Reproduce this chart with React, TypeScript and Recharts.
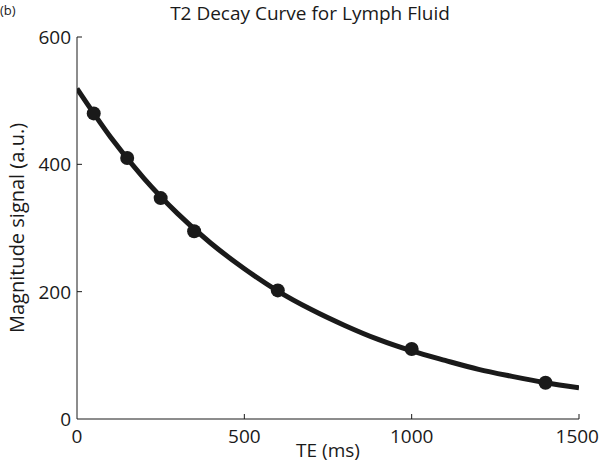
import React from 'react';
import { ComposedChart, Line, Scatter, XAxis, YAxis, Label } from 'recharts';

// measured echo times and signal
const teMs = [50, 150, 250, 350, 600, 1000, 1400];
const signal = [480, 410, 347, 295, 202, 110, 57];

// fitted decay curve, every 100 ms
const fitTe = [0, 100, 200, 300, 400, 500, 600, 700, 800, 900, 1000, 1100, 1200, 1300, 1400, 1500];
const fitSignal = [519, 443, 378, 323, 276, 236, 201, 172, 147, 125, 107, 92, 78, 67, 57, 49];

const xTicks = [0, 500, 1000, 1500];
const yTicks = [0, 200, 400, 600];

const points = teMs.map((t, i) => ({ te: t, s: signal[i] }));
const fit = fitTe.map((t, i) => ({ te: t, s: fitSignal[i] }));

const FONT = '"Open Sans", sans-serif';
const INK = '#1a1a1a';

const YTick = (props: any) => {
  const { x, y, payload } = props;
  return (
    <g>
      {payload.value !== 0 && <line x1={x + 6} x2={x + 11} y1={y} y2={y} stroke={INK} strokeWidth={1} />}
      <text x={x} y={y} dy={7} textAnchor="end" fontSize={19} fill={INK} fontFamily={FONT}>
        {payload.value}
      </text>
    </g>
  );
};

const XTick = (props: any) => {
  const { x, y, payload } = props;
  return (
    <g>
      {payload.value !== 0 && <line x1={x} x2={x} y1={y - 4} y2={y - 9} stroke={INK} strokeWidth={1} />}
      <text x={x} y={y} dy={20} textAnchor={payload.value === 1500 ? 'end' : 'middle'} dx={payload.value === 1500 ? 20 : 0} fontSize={19} fill={INK} fontFamily={FONT}>
        {payload.value}
      </text>
    </g>
  );
};

export default function App() {
  return (
    <div style={{ position: 'absolute', left: 0, top: 0, width: 600, height: 463, background: '#fff' }}>
      <div style={{ position: 'absolute', left: 0, top: 2, fontFamily: FONT, fontSize: 13, lineHeight: '16px', color: INK }}>(b)</div>
      <div style={{ position: 'absolute', left: 160, width: 300, top: 0, textAlign: 'center', fontFamily: FONT, fontSize: 19, lineHeight: 'normal', color: INK, whiteSpace: 'nowrap' }}>
        T2 Decay Curve for Lymph Fluid
      </div>
      <ComposedChart width={600} height={463} margin={{ top: 37, right: 21, bottom: 0, left: 17 }}>
        <XAxis
          type="number"
          dataKey="te"
          domain={[0, 1500]}
          ticks={xTicks}
          tickSize={0}
          tickMargin={4}
          tick={<XTick />}
          stroke={INK}
          height={44}
          allowDataOverflow
        >
          <Label value="TE (ms)" position="insideBottom" offset={6} style={{ fontFamily: FONT, fontSize: 19, fill: INK }} />
        </XAxis>
        <YAxis
          type="number"
          dataKey="s"
          domain={[0, 600]}
          ticks={yTicks}
          tickSize={0}
          tickMargin={6}
          tick={<YTick />}
          stroke={INK}
          width={60}
          allowDataOverflow
        >
          <Label
            value="Magnitude signal (a.u.)"
            angle={-90}
            position="insideLeft"
            offset={0}
            style={{ fontFamily: FONT, fontSize: 20, fill: INK, textAnchor: 'middle' }}
          />
        </YAxis>
        <Line
          data={fit}
          dataKey="s"
          type="monotone"
          stroke={INK}
          strokeWidth={5}
          dot={false}
          isAnimationActive={false}
        />
        <Scatter data={points} dataKey="s" fill={INK} shape={(p: any) => <circle cx={p.cx} cy={p.cy} r={7} fill={INK} />} isAnimationActive={false} />
      </ComposedChart>
    </div>
  );
}
